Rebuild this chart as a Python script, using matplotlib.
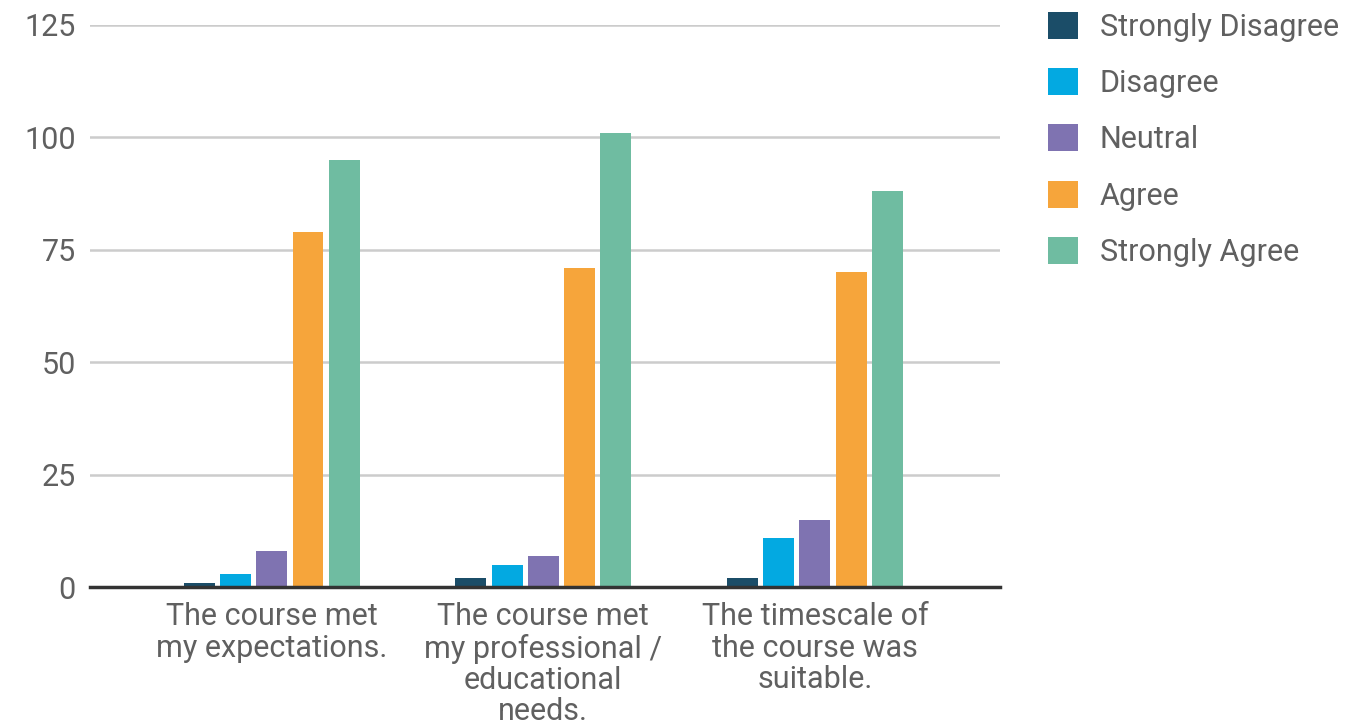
import numpy as np
import matplotlib.pyplot as plt

# dati
questions = ["The course met\nmy expectations.",
             "The course met\nmy professional /\neducational\nneeds.",
             "The timescale of\nthe course was\nsuitable."]
responses = ["Strongly Disagree", "Disagree", "Neutral", "Agree", "Strongly Agree"]
strongly_disagree = [1, 2, 2]
disagree = [3, 5, 11]
neutral = [8, 7, 15]
agree = [79, 71, 70]
strongly_agree = [95, 101, 88]
yticks = [0, 25, 50, 75, 100, 125]

colors = ["#1b4d68", "#03a9e1", "#7f73b1", "#f6a53b", "#6fbca1"]
series = [strongly_disagree, disagree, neutral, agree, strongly_agree]

plt.rcParams['font.family'] = ['Roboto', 'DejaVu Sans']
text_color = "#606060"

fig = plt.figure(figsize=(13.6, 7.24), dpi=100)
ax = fig.add_axes([0.066, 0.189, 0.669, 0.7765])

x = np.arange(len(questions))
step = 0.1335
width = 0.114
for i, (vals, col, name) in enumerate(zip(series, colors, responses)):
    ax.bar(x + (i - 2) * step, vals, width, color=col, label=name, zorder=3)

ax.set_xlim(-0.67, 2.68)
ax.set_ylim(0, 125)
ax.set_yticks(yticks)
ax.set_xticks(x)
ax.set_xticklabels(questions, fontsize=22, color=text_color, linespacing=1.1)
ax.tick_params(axis='y', labelsize=22, labelcolor=text_color, length=0, pad=10)
ax.tick_params(axis='x', length=0, pad=11)
ax.grid(axis='y', color="#cccccc", linewidth=1.8, zorder=0)
for s in ["top", "right", "left"]:
    ax.spines[s].set_visible(False)
ax.spines["bottom"].set_color("#333333")
ax.spines["bottom"].set_linewidth(2.5)
ax.spines["bottom"].set_zorder(4)

leg = ax.legend(loc="upper left", bbox_to_anchor=(1048 / 1360, 1 - 12 / 724),
                bbox_transform=fig.transFigure, frameon=False, fontsize=22,
                handlelength=0.98, handleheight=0.98, handletextpad=0.72,
                labelspacing=0.86, borderpad=0, borderaxespad=0)
for t in leg.get_texts():
    t.set_color(text_color)

fig.savefig("out.png", dpi=100)
